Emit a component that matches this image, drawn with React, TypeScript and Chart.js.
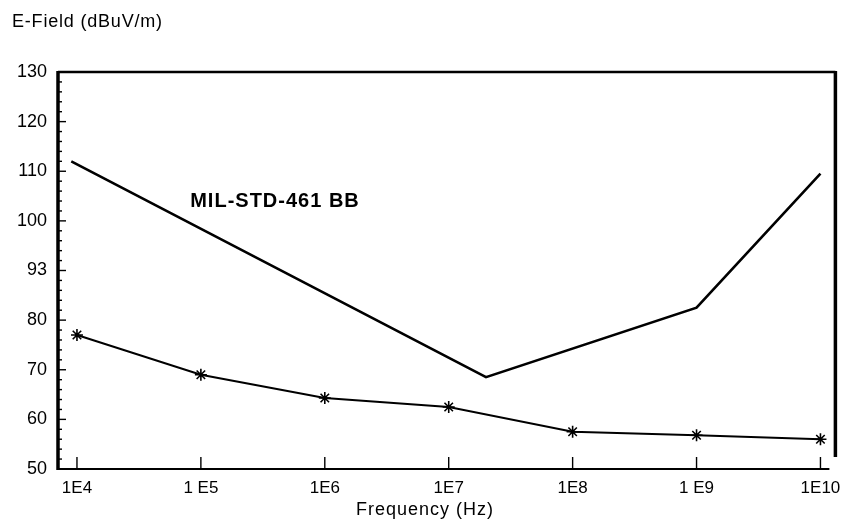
import { useEffect, useRef } from 'react';
import { Chart, registerables } from 'chart.js';

Chart.register(...registerables);

const FONT = '"Liberation Sans", Arial, Helvetica, sans-serif';

// X axis (log frequency, Hz)
const xTickValues = [1e4, 1e5, 1e6, 1e7, 1e8, 1e9, 1e10];
const xTickLabels = ['1E4', '1 E5', '1E6', '1E7', '1E8', '1 E9', '1E10'];

// Y axis (dBuV/m)
const yTickValues = [50, 60, 70, 80, 90, 100, 110, 120, 130];
const yTickLabels = ['50', '60', '70', '80', '93', '100', '110', '120', '130'];

// MIL-STD-461 BB limit line
const limitFreqs = [9e3, 2e7, 1e9, 1e10];
const limitValues = [112, 68.5, 82.5, 109.5];

// Measured E-field (star markers)
const measuredFreqs = [1e4, 1e5, 1e6, 1e7, 1e8, 1e9, 1e10];
const measuredValues = [77, 69, 64.3, 62.5, 57.5, 56.8, 56];

const yAxisTitle = 'E-Field (dBuV/m)';
const xAxisTitle = 'Frequency (Hz)';
const limitLabel = 'MIL-STD-461 BB';
const limitLabelAt = { x: 8.2e4, y: 104 };

const framePlugin = {
  id: 'frame',
  afterDraw(chart: any) {
    const { ctx, chartArea } = chart;
    const { left, right, top, bottom } = chartArea;
    const xs = chart.scales.x;
    const ys = chart.scales.y;
    ctx.save();
    ctx.strokeStyle = '#000';
    ctx.lineCap = 'butt';

    // left axis
    ctx.lineWidth = 3.5;
    ctx.beginPath();
    ctx.moveTo(left, top - 1);
    ctx.lineTo(left, bottom + 1);
    ctx.stroke();
    // top border
    ctx.lineWidth = 2.5;
    ctx.beginPath();
    ctx.moveTo(left, top);
    ctx.lineTo(right, top);
    ctx.stroke();
    // right border
    ctx.lineWidth = 3.5;
    ctx.beginPath();
    ctx.moveTo(right, top - 1);
    ctx.lineTo(right, bottom - 12);
    ctx.stroke();
    // bottom axis
    ctx.lineWidth = 2;
    ctx.beginPath();
    ctx.moveTo(left, bottom);
    ctx.lineTo(right - 6, bottom);
    ctx.stroke();

    // y ticks (major + minor), pointing inward
    ctx.lineWidth = 1.4;
    for (let v = ys.min; v <= ys.max; v += 2) {
      const py = ys.getPixelForValue(v);
      const major = yTickValues.includes(v);
      ctx.beginPath();
      ctx.moveTo(left, py);
      ctx.lineTo(left + (major ? 8 : 4), py);
      ctx.stroke();
    }
    // x ticks, pointing upward
    for (const v of xTickValues) {
      const px = xs.getPixelForValue(v);
      ctx.beginPath();
      ctx.moveTo(px, bottom);
      ctx.lineTo(px, bottom - 12);
      ctx.stroke();
    }

    // texts
    ctx.fillStyle = '#000';
    ctx.textBaseline = 'middle';
    ctx.textAlign = 'left';
    ctx.font = `18px ${FONT}`;
    (ctx as any).letterSpacing = '0.8px';
    ctx.fillText(yAxisTitle, 12, 22);

    ctx.textAlign = 'center';
    ctx.font = `18px ${FONT}`;
    (ctx as any).letterSpacing = '1px';
    ctx.fillText(xAxisTitle, left + (right - left) * 0.472, 510);

    ctx.textAlign = 'left';
    ctx.font = `bold 20px ${FONT}`;
    (ctx as any).letterSpacing = '1px';
    ctx.fillText(
      limitLabel,
      xs.getPixelForValue(limitLabelAt.x),
      ys.getPixelForValue(limitLabelAt.y)
    );
    (ctx as any).letterSpacing = '0px';
    ctx.restore();
  },
};

export default function App() {
  const ref = useRef<HTMLCanvasElement | null>(null);

  useEffect(() => {
    if (!ref.current) return;
    const chart = new Chart(ref.current, {
      type: 'line',
      data: {
        datasets: [
          {
            label: limitLabel,
            data: limitFreqs.map((f, i) => ({ x: f, y: limitValues[i] })),
            borderColor: '#000',
            borderWidth: 2.6,
            pointRadius: 0,
            tension: 0,
          },
          {
            label: 'Measured',
            data: measuredFreqs.map((f, i) => ({ x: f, y: measuredValues[i] })),
            borderColor: '#000',
            backgroundColor: '#000',
            borderWidth: 2,
            pointStyle: 'star',
            pointRadius: 6,
            pointBorderWidth: 1.6,
            pointBorderColor: '#000',
            tension: 0,
          },
        ],
      },
      options: {
        responsive: false,
        animation: false,
        devicePixelRatio: 1,
        layout: { padding: { top: 72, right: 7, left: 0, bottom: 0 } },
        plugins: {
          legend: { display: false },
          tooltip: { enabled: false },
          title: { display: false },
        },
        scales: {
          x: {
            type: 'logarithmic',
            min: 7.03e3,
            max: 1.32e10,
            afterBuildTicks: (s: any) => {
              s.ticks = xTickValues.map((v) => ({ value: v }));
            },
            afterFit: (s: any) => {
              s.height = 52;
              s.paddingLeft = 0;
              s.paddingRight = 0;
            },
            ticks: {
              callback: (_v: any, i: number) => xTickLabels[i],
              font: { family: FONT, size: 17 },
              color: '#000',
              padding: 9,
              maxRotation: 0,
              autoSkip: false,
            },
            grid: { display: false, drawTicks: false },
            border: { display: false },
          },
          y: {
            type: 'linear',
            min: 50,
            max: 130,
            afterBuildTicks: (s: any) => {
              s.ticks = yTickValues.map((v) => ({ value: v }));
            },
            afterFit: (s: any) => {
              s.width = 58;
              s.paddingTop = 0;
              s.paddingBottom = 0;
            },
            ticks: {
              callback: (_v: any, i: number) => yTickLabels[i],
              font: { family: FONT, size: 18 },
              color: '#000',
              padding: 11,
              autoSkip: false,
            },
            grid: { display: false, drawTicks: false },
            border: { display: false },
          },
        },
      },
      plugins: [framePlugin],
    } as any);
    return () => chart.destroy();
  }, []);

  return (
    <div style={{ position: 'fixed', left: 0, top: 0, width: 843, height: 521, background: '#fff' }}>
      <canvas ref={ref} width={843} height={521} style={{ display: 'block' }} />
    </div>
  );
}
